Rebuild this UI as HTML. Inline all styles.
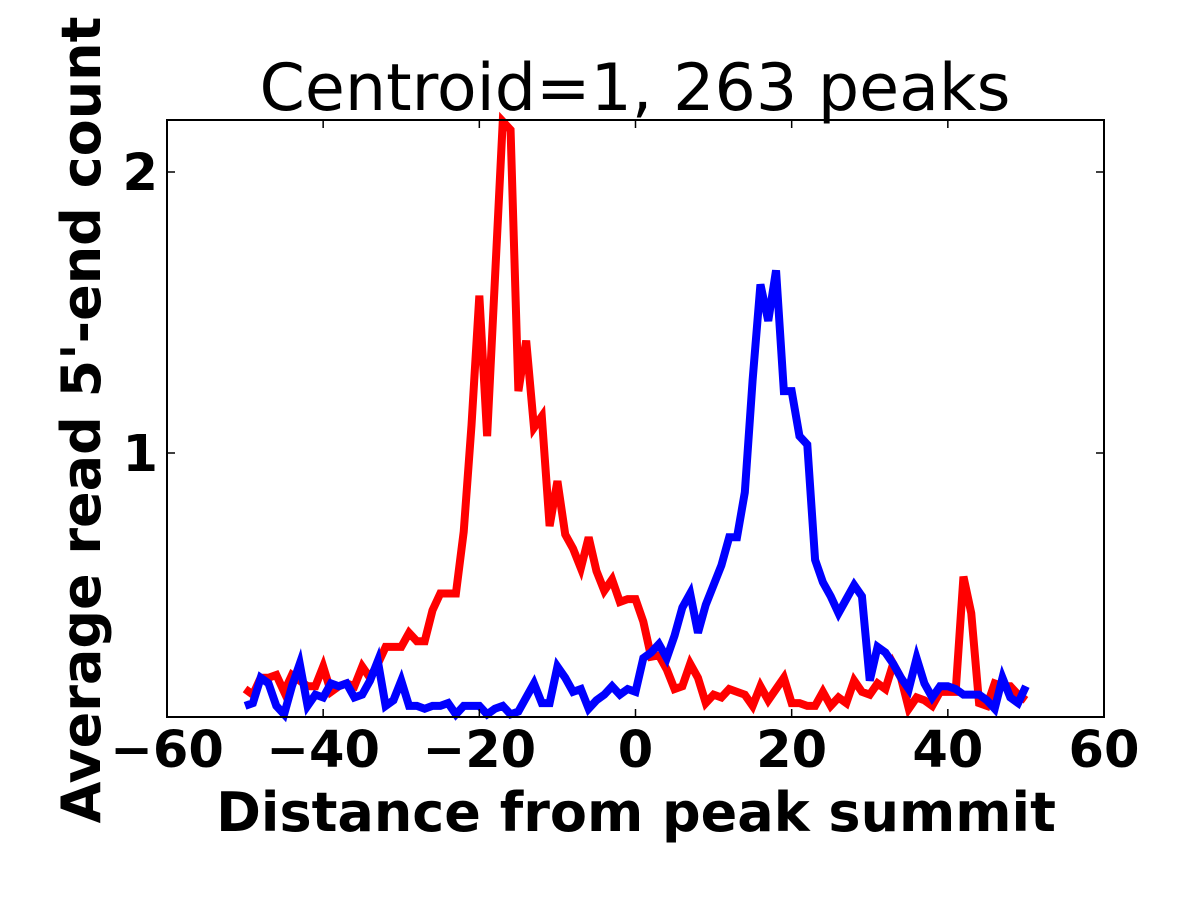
<!DOCTYPE html>
<html><head><meta charset="utf-8"><style>
body{margin:0;background:#fff}
svg{display:block}
text{font-family:"DejaVu Sans","Liberation Sans",sans-serif}
</style></head><body>
<svg id="chart" width="1200" height="900" xmlns="http://www.w3.org/2000/svg">
<text x="635" y="110" text-anchor="middle" font-size="65">Centroid=1, 263 peaks</text>
<g id="plot"></g>
<rect x="167" y="120" width="937" height="597" fill="none" stroke="#000" stroke-width="2"/>
<g id="ticks"></g>
<text x="636" y="831" text-anchor="middle" font-size="54" font-weight="bold">Distance from peak summit</text>
<text transform="translate(100,420) rotate(-90)" text-anchor="middle" font-size="54" font-weight="bold">Average read 5'-end count</text>
</svg>
<script>
const xTicks=[-60,-40,-20,0,20,40,60];
const yTicks=[1,2];
const positions=[];for(let i=-50;i<=50;i++)positions.push(i);
const redSeries=[0.16,0.14,0.20,0.20,0.21,0.15,0.21,0.19,0.17,0.17,0.24,0.15,0.17,0.18,0.17,0.24,0.20,0.25,0.31,0.31,0.31,0.36,0.33,0.33,0.44,0.50,0.50,0.50,
0.72,1.10,1.56,1.06,1.62,2.18,2.15,1.22,1.40,1.09,1.13,0.74,0.90,0.71,0.66,0.59,0.70,0.58,0.51,0.55,0.47,0.48,
0.48,0.40,0.275,0.28,0.23,0.16,0.17,0.25,0.20,0.11,0.14,0.13,0.16,0.15,0.14,0.10,0.17,0.12,0.16,0.20,0.11,0.11,0.10,0.10,0.15,0.10,0.13,0.11,0.19,0.15,0.14,0.18,0.16,0.25,0.20,0.09,0.13,0.12,0.10,0.15,0.15,0.15,0.56,0.43,0.11,0.10,0.18,0.17,0.17,0.14,0.12];
const blueSeries=[0.10,0.11,0.20,0.18,0.10,0.07,0.17,0.25,0.10,0.14,0.13,0.18,0.17,0.18,0.13,0.14,0.19,0.26,0.10,0.12,0.19,0.10,0.10,0.09,0.10,0.10,0.11,0.07,
0.10,0.10,0.10,0.07,0.09,0.10,0.07,0.08,0.13,0.18,0.11,0.11,0.24,0.20,0.15,0.16,0.09,0.12,0.14,0.17,0.14,0.16,
0.15,0.27,0.29,0.32,0.27,0.35,0.45,0.50,0.36,0.46,0.53,0.60,0.70,0.70,0.86,1.26,1.60,1.47,1.65,1.22,1.22,1.06,1.03,0.62,0.54,0.49,0.43,0.48,0.53,0.49,
0.19,0.31,0.29,0.25,0.20,0.16,0.27,0.18,0.13,0.17,0.17,0.16,0.14,0.14,0.14,0.12,0.09,0.20,0.13,0.11,0.17];
const X=v=>167+(v+60)*937/120;
const Y=v=>734-v*281;
const NS='http://www.w3.org/2000/svg';
const plot=document.getElementById('plot'),ticks=document.getElementById('ticks');
function line(series,color,name){
  const p=document.createElementNS(NS,'polyline');
  p.setAttribute('points',series.map((v,i)=>X(positions[i])+','+Y(v)).join(' '));
  p.setAttribute('fill','none');p.setAttribute('stroke',color);p.setAttribute('stroke-width','8');p.setAttribute('stroke-linejoin','miter');
  
  
  plot.appendChild(p);
}
line(redSeries,'#ff0000','red-series-line');
line(blueSeries,'#0000ff','blue-series-line');
xTicks.forEach(t=>{
  const x=X(t);
  const l=document.createElementNS(NS,'path');
  l.setAttribute('d',`M${x} 717v-8M${x} 120v8`);l.setAttribute('stroke','#000');l.setAttribute('stroke-width','1.5');
  
  
  ticks.appendChild(l);
  const tx=document.createElementNS(NS,'text');
  tx.setAttribute('x',x);tx.setAttribute('y',767);tx.setAttribute('text-anchor','middle');tx.setAttribute('font-size','51');tx.setAttribute('font-weight','bold');
  tx.textContent=(t<0?'\u2212':'')+Math.abs(t);
  
  
  ticks.appendChild(tx);
});
yTicks.forEach(t=>{
  const y=Y(t);
  const l=document.createElementNS(NS,'path');
  l.setAttribute('d',`M167 ${y}h8M1104 ${y}h-8`);l.setAttribute('stroke','#000');l.setAttribute('stroke-width','1.5');
  
  
  ticks.appendChild(l);
  const tx=document.createElementNS(NS,'text');
  tx.setAttribute('x',158);tx.setAttribute('y',y+18);tx.setAttribute('text-anchor','end');tx.setAttribute('font-size','51');tx.setAttribute('font-weight','bold');
  tx.textContent=t;
  
  
  ticks.appendChild(tx);
});
</script>
</body></html>
